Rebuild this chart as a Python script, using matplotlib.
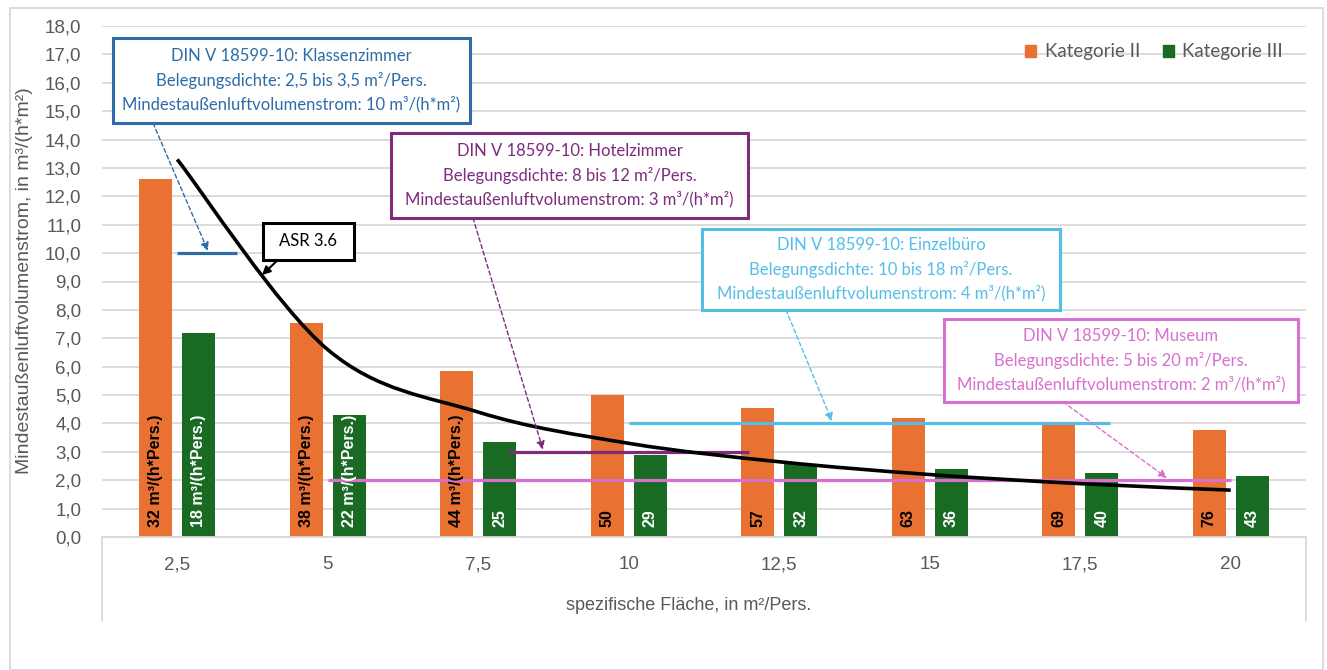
import numpy as np
import matplotlib
matplotlib.use("Agg")
import matplotlib.pyplot as plt
from matplotlib.path import Path
from matplotlib.patches import PathPatch, Rectangle, Patch

# data
areas = [2.5, 5, 7.5, 10, 12.5, 15, 17.5, 20]
area_labels = ["2,5", "5", "7,5", "10", "12,5", "15", "17,5", "20"]
kat2 = [12.6, 7.55, 5.85, 5.0, 4.55, 4.2, 3.95, 3.78]
kat3 = [7.2, 4.3, 3.35, 2.9, 2.56, 2.4, 2.27, 2.15]
kat2_labels = ["32 m³/(h*Pers.)", "38 m³/(h*Pers.)", "44 m³/(h*Pers.)", "50", "57", "63", "69", "76"]
kat3_labels = ["18 m³/(h*Pers.)", "22 m³/(h*Pers.)", "25", "29", "32", "36", "40", "43"]
asr = [13.3, 6.6, 4.4, 3.3, 2.65, 2.2, 1.88, 1.65]

# DIN V 18599-10 ranges: (name, area from, area to, value, colour)
din_names = ["Klassenzimmer", "Hotelzimmer", "Einzelbüro", "Museum"]
din_from = [2.5, 8, 10, 5]
din_to = [3.5, 12, 18, 20]
din_value = [10, 3, 4, 2]
din_colors = ["#2E6CA8", "#7E2B7E", "#55BEE8", "#D96FCF"]

orange = "#E97132"
green = "#196B24"
gray = "#595959"
grid = "#D9D9D9"

W, H = 1327, 670
fig = plt.figure(figsize=(W / 100, H / 100), dpi=100)
ax = fig.add_axes([102 / W, 1 - 537 / H, (1306 - 102) / W, (537 - 26) / H])

x = np.arange(len(areas))
bw = 0.22
off = 0.143
ax.bar(x - off, kat2, bw, color=orange, zorder=2)
ax.bar(x + off, kat3, bw, color=green, zorder=2)

for i in x:
    ax.text(i - off, 0.35, kat2_labels[i], rotation=90, ha="center", va="bottom",
            fontsize=11.5, fontweight="bold", family="Liberation Sans", color="black", zorder=6)
    ax.text(i + off, 0.35, kat3_labels[i], rotation=90, ha="center", va="bottom",
            fontsize=11.5, fontweight="bold", family="Liberation Sans", color="white", zorder=6)

# DIN lines, positioned on the category axis by area
def cat_pos(a):
    return (a - areas[0]) / (areas[1] - areas[0])

for a0, a1, v, c in zip(din_from, din_to, din_value, din_colors):
    ax.plot([cat_pos(a0), cat_pos(a1)], [v, v], color=c, lw=2.3, zorder=4, solid_capstyle="butt")

# smoothed ASR curve (bezier through the points)
pts = np.column_stack([x, asr]).astype(float)
verts = [pts[0]]
codes = [Path.MOVETO]
n = len(pts)
for i in range(n - 1):
    p0 = pts[max(i - 1, 0)]
    p1 = pts[i]
    p2 = pts[i + 1]
    p3 = pts[min(i + 2, n - 1)]
    verts += [p1 + (p2 - p0) / 6, p2 - (p3 - p1) / 6, p2]
    codes += [Path.CURVE4] * 3
ax.add_patch(PathPatch(Path(verts, codes), fill=False, lw=2.6, color="black", zorder=5))

ax.set_xlim(-0.5, 7.5)
ax.set_ylim(0, 18)
ax.set_yticks(np.arange(0, 19, 1))
ax.set_yticklabels([f"{v:.1f}".replace(".", ",") for v in np.arange(0, 19, 1)])
ax.set_xticks(x)
ax.set_xticklabels(area_labels)
ax.tick_params(axis="y", length=0, pad=15, labelsize=13.5, labelcolor=gray)
ax.tick_params(axis="x", length=0, pad=14, labelsize=13.5, labelcolor=gray)
for lab in ax.get_xticklabels() + ax.get_yticklabels():
    lab.set_family("Liberation Sans")
ax.yaxis.grid(True, color=grid, lw=1.3, zorder=0)
ax.set_axisbelow(True)
for s in ["top", "right", "left"]:
    ax.spines[s].set_visible(False)
ax.spines["bottom"].set_color(grid)
ax.spines["bottom"].set_linewidth(1.3)
ax.spines["bottom"].set_zorder(3)

# box lines under the category axis
h_box = (620 - 537) / (537 - 26)
ax.plot([0, 0], [0, -h_box], color=grid, lw=1.3, transform=ax.transAxes, clip_on=False)
ax.plot([1, 1], [0, -h_box], color=grid, lw=1.3, transform=ax.transAxes, clip_on=False)

fig.text(689 / W, 1 - 605 / H, "spezifische Fläche, in m²/Pers.", ha="center", va="center",
         fontsize=13, color=gray, family="Liberation Sans")
fig.text(25 / W, 1 - 281 / H, "Mindestaußenluftvolumenstrom, in m³/(h*m²)", rotation=90,
         ha="center", va="center", fontsize=14, color=gray, family="Liberation Sans")

# annotation boxes: (x0, x1, y0, y1) in data units, text lines, arrow tail and head
boxes = [
    ((-0.427, 1.945, 14.58, 17.58), ["DIN V 18599-10: Klassenzimmer",
                                      "Belegungsdichte: 2,5 bis 3,5 m²/Pers.",
                                      "Mindestaußenluftvolumenstrom: 10 m³/(h*m²)"],
     din_colors[0], (-0.161, 14.58), (0.204, 10.08)),
    ((1.420, 3.792, 11.24, 14.23), ["DIN V 18599-10: Hotelzimmer",
                                     "Belegungsdichte: 8 bis 12 m²/Pers.",
                                     "Mindestaußenluftvolumenstrom: 3 m³/(h*m²)"],
     din_colors[1], (1.965, 11.24), (2.43, 3.08)),
    ((3.487, 5.865, 8.0, 10.85), ["DIN V 18599-10: Einzelbüro",
                                   "Belegungsdichte: 10 bis 18 m²/Pers.",
                                   "Mindestaußenluftvolumenstrom: 4 m³/(h*m²)"],
     din_colors[2], (4.045, 8.0), (4.35, 4.08)),
    ((5.095, 7.447, 4.76, 7.68), ["DIN V 18599-10: Museum",
                                   "Belegungsdichte: 5 bis 20 m²/Pers.",
                                   "Mindestaußenluftvolumenstrom: 2 m³/(h*m²)"],
     din_colors[3], (5.885, 4.76), (6.576, 2.08)),
]
for (x0, x1, y0, y1), lines, c, tail, head in boxes:
    ax.add_patch(Rectangle((x0, y0), x1 - x0, y1 - y0, fill=True, facecolor="white",
                           edgecolor=c, lw=2.2, zorder=7))
    ax.text((x0 + x1) / 2, (y0 + y1) / 2, "\n".join(lines), ha="center", va="center",
            color=c, fontsize=12, family="Lato", linespacing=1.55, zorder=8)
    ax.annotate("", xy=head, xytext=tail, zorder=6,
                arrowprops=dict(arrowstyle="-|>", color=c, lw=1.0, linestyle=(0, (3, 2)),
                                mutation_scale=12, shrinkA=0, shrinkB=0))

# ASR 3.6 label
ax.add_patch(Rectangle((0.570, 9.76), 0.604, 1.30, facecolor="white", edgecolor="black",
                       lw=2.2, zorder=7))
ax.text(0.872, 10.41, "ASR 3.6", ha="center", va="center", fontsize=12, family="Lato", zorder=8)
ax.annotate("", xy=(0.563, 9.23), xytext=(0.669, 9.76), zorder=6,
            arrowprops=dict(arrowstyle="-|>", color="black", lw=1.5, mutation_scale=12,
                            shrinkA=0, shrinkB=0))

handles = [Patch(color=orange), Patch(color=green)]
fig.legend(handles, ["Kategorie II", "Kategorie III"], loc="center right",
           bbox_to_anchor=(1300 / W, 1 - 52 / H), ncol=2, frameon=False,
           handlelength=0.6, handleheight=0.6, handletextpad=0.45, columnspacing=1.2,
           prop={"family": "Lato", "size": 13.5}, labelcolor=gray)

# outer chart border
fig.add_artist(Rectangle((10 / W, 0), (1323 - 10) / W, 1 - 8 / H, transform=fig.transFigure,
                         fill=False, edgecolor=grid, lw=1.3))

fig.savefig("out.png", dpi=100)
